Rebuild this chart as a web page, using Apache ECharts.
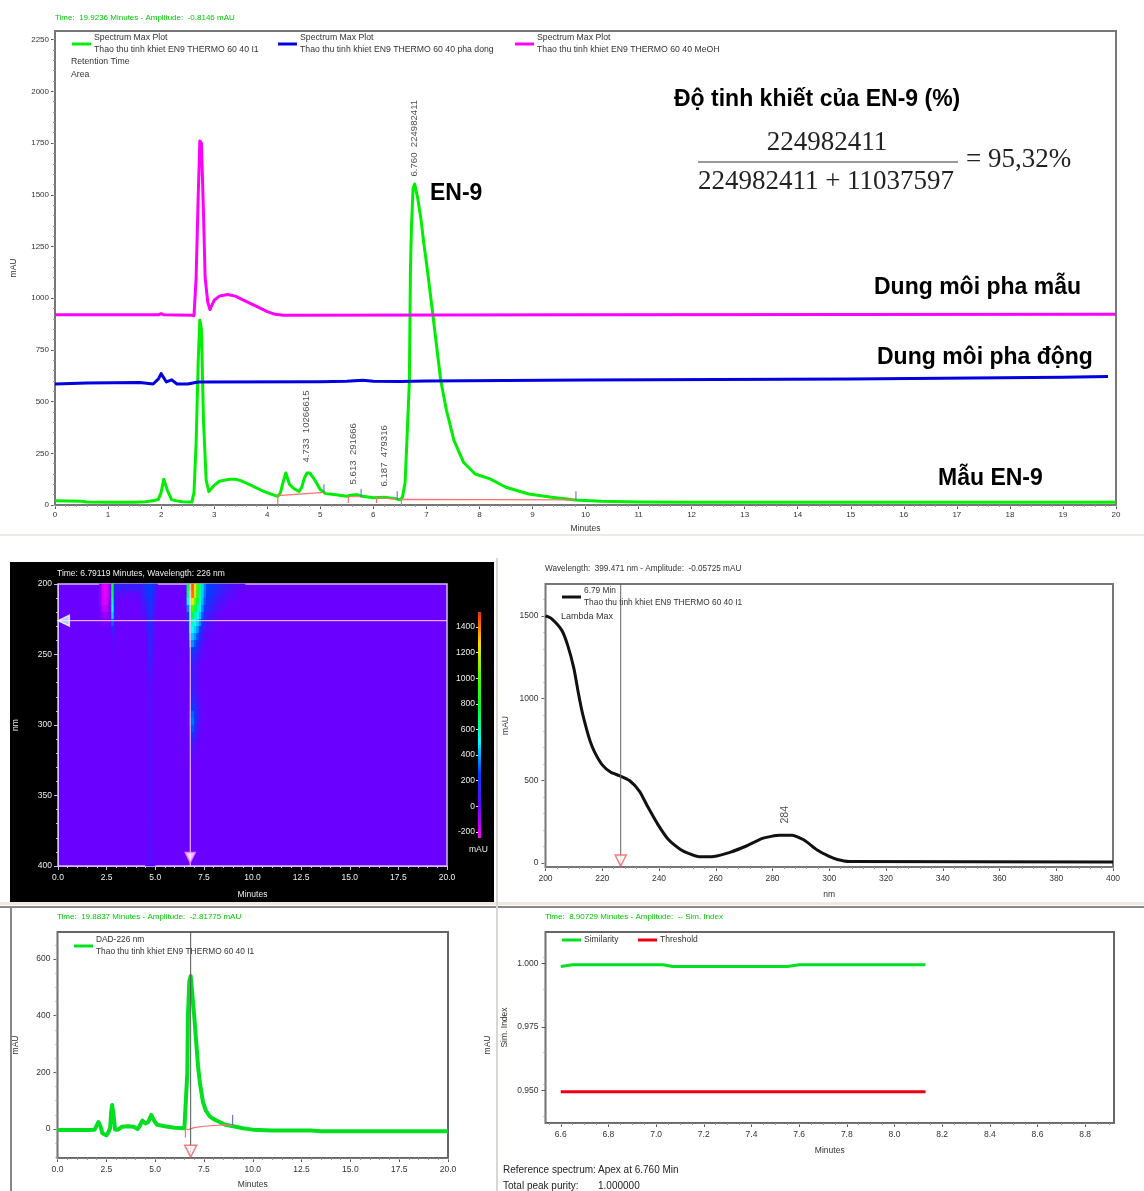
<!DOCTYPE html>
<html><head><meta charset="utf-8">
<script src="https://cdn.jsdelivr.net/npm/echarts@6/dist/echarts.min.js"></script>
<style>html,body{margin:0;background:#fff}#c{width:1144px;height:1191px;filter:blur(0.45px)}</style></head>
<body><div id="c"></div>
<script>
// ---------- Main chromatogram ----------
const mainGreenT=[0,0.5,0.6,1,1.5,1.7,1.85,1.95,2,2.05,2.08,2.12,2.2,2.3,2.4,2.58,2.62,2.66,2.7,2.73,2.76,2.8,2.85,2.9,2.93,3,3.1,3.3,3.4,3.5,3.7,3.9,4.1,4.2,4.25,4.3,4.35,4.38,4.42,4.5,4.6,4.65,4.7,4.75,4.8,4.9,5,5.1,5.3,5.5,5.6,5.7,5.8,6,6.2,6.4,6.5,6.55,6.6,6.64,6.68,6.7,6.72,6.75,6.78,6.84,6.9,6.95,7.02,7.12,7.27,7.38,7.52,7.7,7.92,8.2,8.5,8.93,9.36,9.8,10.3,11,12,20];
const mainGreenV=[20,18,14,13,13,16,20,28,60,125,130,70,25,20,16,14,60,300,700,893,850,400,120,65,68,95,115,125,125,118,95,70,50,42,60,110,155,150,100,80,65,85,130,155,155,120,75,55,50,42,48,50,42,35,38,32,25,37,110,350,600,1136,1350,1530,1552,1480,1380,1270,1136,926,603,457,312,207,150,126,86,53,37,24,18,14,13,13];
const mainBlueT=[0,0.6,1.6,1.85,1.95,2,2.1,2.15,2.2,2.3,2.5,2.7,5,5.5,5.8,6,6.5,7,10,15,19,19.85];
const mainBlueV=[585,590,592,585,610,635,595,600,605,585,585,595,596,598,603,598,597,600,605,609,618,621];
const mainMagentaT=[0,1.95,2,2.05,2.58,2.62,2.66,2.7,2.73,2.76,2.8,2.83,2.88,2.92,3,3.1,3.25,3.4,3.6,3.8,4,4.15,4.3,10,20];
const mainMagentaV=[920,920,925,920,918,915,1100,1500,1760,1750,1400,1100,980,945,990,1010,1018,1010,985,960,935,922,918,920,922];
const mainBaseT=[4.2,4.2,5.07,null,5.53,5.53,5.77,null,6.06,6.06,6.45,null,6.53,6.53,9.82];
const mainBaseV=[5,45,61,null,10,40,40,null,10,35,30,null,0,27,25];
const mainStopT=[5.07,5.07,null,5.77,5.77,null,6.45,6.45,null,9.82,9.82];
const mainStopV=[62,100,null,37,78,null,24,66,null,24,66];
const mainPeakT=[6.77,4.73,5.62,6.2];
const mainPeakV=[1586,203,97,87];
const mainPeakText=['6.760  224982411','4.733  10266615','5.613  291666','6.187  479316'];
const mainTicksY=[0,250,500,750,1000,1250,1500,1750,2000,2250];

// ---------- 3D map ----------
const heatWavelengthStart=200, heatWavelengthStep=5, heatTimeStep=0.125;
const heatTimes=[2.125,2.25,2.375,2.5,2.625,2.75,2.875,3,3.125,3.25,3.375,3.5,3.625,3.75,3.875,4,4.125,4.25,4.375,4.5,4.625,4.75,4.875,5,6.625,6.75,6.875,7,7.125,7.25,7.375,7.5,7.625,7.75,7.875,8,8.125,8.25,8.375,8.5,8.625,8.75,8.875,9,9.125,9.25,9.375,9.5];
const heatValues=[
[-60,-60,-60,-40,-20,-10],
[-180,-180,-170,-130,-70,-30],
[-210,-210,-200,-150,-80,-30],
[-190,-190,-170,-120,-60,-20],
[-20,-20,-15,-10],
[750,700,600,500,450,300,150,80,40,30,20],
[150,120,100,80,50,20],
[120,50,30],
[120,30],[110,30],[110,30],[120,30],[110,30],[110,30],[120,30],[110,30],[110,30],
[100,90,70,40,20],
[170,150,120,80,40,30,20],
[200,170,130,90,60,40,30,20,20,20,20,15,15,15,15,15,15,15,15,15,15,15,15,15,15,15,15,15,15,15,15,15,15,15,15,15,15,15,15,15],
[250,220,200,180,170,150,140,130,120,110,100,90,70,50,40,40,35,35,30,30,30,30,30,30,30,30,30,30,30,30,30,30,30,30,30,30,30,30,30,30],
[250,230,210,190,180,170,160,150,140,130,120,100,80,60,50,40,40,40,40,35,35,35,35,35,35,35,35,35,35,35,35,35,35,35,35,35,35,35,35,35],
[160,130,110,90,60,40,30,20,20,15,15,15,15,15,15,15,15,15,15,15,15,15,15,15,15,15,15,15,15,15,15,15,15,15,15,15,15,15,15,15],
[80,50,30,10],
[700,650,500,350,250,200,150,100,50,30,20,10],
[1350,1300,1150,850,700,560,480,420,350,250,150,110,90,80,90,110,130,190,260,280,240,160,90,50,30,20],
[1420,1400,1250,950,720,580,500,430,360,250,180,120,100,100,110,130,170,230,300,320,280,190,100,50,30,20],
[1250,1200,1000,800,620,520,440,360,280,200,140,100,80,80,90,100,130,170,220,230,190,130,70,40,20],
[900,850,750,620,520,450,370,280,200,130,80,50,40,40,40,50,70,100,120,120,90,50,20],
[650,600,550,480,420,340,240,160,100,60,40,20,20,20,20,20,30,40,40,30,20],
[450,430,400,350,280,200,130,90,60,30,20],
[330,310,280,230,170,120,80,50,30,20],
[260,240,210,170,120,80,50,30,20],
[230,210,180,140,90,60,40,20],
[210,190,150,110,70,40,20],
[190,170,130,90,60,30],
[170,140,100,60,30],
[150,120,80,50,20],
[130,100,60,30],
[110,80,50,20],
[90,60,30],
[70,50,20],
[60,40],
[50,30],
[40,20],
[30],
[25],
[20]];
const heatCursorTime=6.8, heatCursorWavelength=226;
const heatColors=['#ff00ff','#6a00ff','#0040ff','#00ffff','#00ff30','#50ff00','#ffe000','#ff2000'];

// ---------- UV spectrum ----------
const specNm=[200,202,205.7,207.8,210,211.5,212.9,214.4,215.8,217.5,220,223,226,229.6,233.2,236,239.7,243.4,247.7,250.6,254.2,259.3,265,271,276.7,282.5,286.9,291,295.6,300,302.8,307,400];
const specV=[1500,1485,1414,1323,1182,1040,919,818,737,667,596,551,531,501,434,343,232,141,81,57,38,40,65,105,151,168,168,141,81,40,22,10,6];
const specCursor=226.5;

// ---------- DAD 226 nm ----------
const dadT=[0,1.5,1.9,2,2.1,2.2,2.3,2.5,2.6,2.7,2.75,2.8,2.87,2.95,3.1,3.3,3.6,3.9,4.1,4.2,4.35,4.5,4.65,4.8,4.95,5.1,5.5,6,6.5,6.6,6.65,6.68,6.75,6.82,6.9,7,7.1,7.2,7.3,7.45,7.6,7.8,8,8.3,8.6,9,9.5,10,11,13,13.5,20];
const dadV=[-3,-3,-2,5,25,10,-15,-22,-12,5,60,85,50,-2,-2,8,10,8,0,10,30,20,25,50,30,15,10,5,3,10,200,400,520,540,480,400,310,220,160,95,65,45,35,25,15,10,3,-2,-5,-5,-8,-8];
const dadBaseT=[6.55,6.55,6.7,7,7.5,8.5,8.97];
const dadBaseV=[-30,0,-2,5,10,15,12];
const dadStopT=[8.97,8.97];
const dadStopV=[14,50];
const dadCursor=6.82;

// ---------- Similarity ----------
const simT=[6.6,6.65,7.03,7.07,7.55,7.6,8.13];
const simV=[0.9988,0.9995,0.9995,0.9988,0.9988,0.9995,0.9995];
const threshT=[6.6,8.13];
const threshV=[0.9495,0.9495];

const FONT='"Liberation Sans",Arial,sans-serif';
const grids=[],xAxes=[],yAxes=[],series=[],legends=[],graphics=[];
const range=(a,b,s)=>{const r=[];for(let i=0;;i++){const v=+(a+i*s).toFixed(6);if(v>b+1e-9)break;r.push(v);}return r;};
const zip=(a,b)=>a.map((v,i)=>[v,b[i]]);

function addAxes(list,grid,o){
  const base={type:'value',gridIndex:grid,min:o.min,max:o.max,inverse:!!o.inverse,splitLine:{show:false},position:o.pos,scale:true};
  const col=o.color||'#333', tick=o.tick||'#555';
  list.push(Object.assign({},base,{
    name:o.name,nameLocation:'middle',nameGap:o.nameGap,nameTextStyle:{fontFamily:FONT,fontSize:o.nameSize||8.5,color:col},
    axisLine:{show:true,onZero:false,lineStyle:{color:o.line||'#777',width:1}},
    axisTick:{show:true,length:4,customValues:o.majors,lineStyle:{color:tick}},
    axisLabel:{show:true,customValues:o.majors,margin:o.margin||7,fontFamily:FONT,fontSize:o.size||8.5,color:col,formatter:o.fmt||(v=>String(v))}
  }));
  const idx=list.length-1;
  list.push(Object.assign({},base,{axisLine:{show:false,onZero:false},
    axisTick:{show:true,length:2,customValues:o.minors,lineStyle:{color:o.tick||'#999'}},
    axisLabel:{show:false}}));
  return idx;
}
function addGrid(l,t,r,b,color,bg,bw){
  grids.push({left:l,top:t,width:r-l,height:b-t,show:true,containLabel:false,borderColor:color||'#777',borderWidth:bw||2,backgroundColor:bg||'transparent'});
  return grids.length-1;
}
function line(name,xi,yi,x,y,color,w,extra){
  series.push(Object.assign({type:'line',name,xAxisIndex:xi,yAxisIndex:yi,data:zip(x,y),showSymbol:false,symbol:'none',
    lineStyle:{color,width:w,join:'round'},itemStyle:{color},smooth:false,silent:true,clip:true,connectNulls:false},extra||{}));
}
const straight=line;
function marker(xi,yi,x,y,fill,stroke,rotate,size){
  series.push({type:'scatter',xAxisIndex:xi,yAxisIndex:yi,data:[[x,y]],symbol:'triangle',symbolRotate:rotate,symbolSize:size,silent:true,
    itemStyle:{color:fill,borderColor:stroke,borderWidth:1.5},z:6});
}
function peakLabels(xi,yi,x,y,text,size){
  series.push({type:'scatter',xAxisIndex:xi,yAxisIndex:yi,symbol:'circle',symbolSize:1,silent:true,z:6,
    itemStyle:{color:'transparent'},
    data:x.map((v,i)=>({value:[v,y[i]],name:text[i]})),
    label:{show:true,position:'top',distance:0,rotate:90,align:'left',verticalAlign:'middle',formatter:p=>p.name,fontFamily:FONT,fontSize:size,color:'#222'}});
}
function legend(names,left,top,gap,size,w){
  legends.push({show:true,data:names,left,top,padding:0,orient:'horizontal',itemGap:gap,itemWidth:w||19,itemHeight:3,icon:'rect',selectedMode:false,
    textStyle:{fontFamily:FONT,fontSize:size,lineHeight:12,color:'#333',padding:[0,0,0,-2]}});
}
function txt(x,y,text,size,o){
  o=o||{};
  graphics.push({type:'text',x,y,z:100,rotation:o.rot||0,silent:true,style:{text,fontSize:size,fontFamily:o.family||FONT,fontWeight:o.weight||'normal',
    fill:o.fill||'#111',textAlign:o.align||'left',textVerticalAlign:'middle',verticalAlign:'middle'}});
}
function rect(x,y,w,h,fill){graphics.push({type:'rect',z:-10,silent:true,shape:{x,y,width:w,height:h},style:{fill}});}

// Panel backgrounds and separators
rect(0,534,1144,2,'#ecece4');
rect(10,562,484,340,'#000');
rect(0,902,1144,3,'#eee9e2');
rect(0,906,1144,2,'#8a8a84');
rect(496,558,2,633,'#d8d8d2');
rect(10,906,2,285,'#8a8a84');

// 1 Main chromatogram
{
  const g=addGrid(55,31,1116,505,'#777');
  const xi=addAxes(xAxes,g,{min:0,max:20,majors:range(0,20,1),minors:range(0,20,0.2),pos:'bottom',name:'Minutes',nameGap:19,margin:6,size:8});
  const yi=addAxes(yAxes,g,{min:0,max:2292,majors:mainTicksY,minors:range(0,2250,50),pos:'left',name:'mAU',nameGap:37,margin:6,size:8});
  const n1='Spectrum Max Plot\nThao thu tinh khiet EN9 THERMO 60 40 I1',n2='Spectrum Max Plot\nThao thu tinh khiet EN9 THERMO 60 40 pha dong',n3='Spectrum Max Plot\nThao thu tinh khiet EN9 THERMO 60 40 MeOH';
  line(n1,xi,yi,mainGreenT,mainGreenV,'#00ee00',3);
  line(n2,xi,yi,mainBlueT,mainBlueV,'#0000e0',3);
  line(n3,xi,yi,mainMagentaT,mainMagentaV,'#ff00ff',3);
  straight('baseline',xi,yi,mainBaseT,mainBaseV,'#ff7070',1.2);
  straight('stops',xi,yi,mainStopT,mainStopV,'#5060e0',1);
  peakLabels(xi,yi,mainPeakT,mainPeakV,mainPeakText,9.6);
  legend([n1],72,32,0,8.7);
  legends.push(Object.assign({},legends[0],{data:[n2],left:278}));
  legends.push(Object.assign({},legends[0],{data:[n3],left:515}));
  txt(55,18,'Time:  19.9236 Minutes - Amplitude:  -0.8146 mAU',8,{fill:'#00c800'});
  txt(71,62,'Retention Time',8.7,{fill:'#333'});
  txt(71,75,'Area',8.7,{fill:'#333'});
  txt(430,194,'EN-9',23,{weight:'bold',fill:'#000'});
  txt(674,100,'Độ tinh khiết của EN-9 (%)',23,{weight:'bold',fill:'#000'});
  const S='"Liberation Serif","Times New Roman",serif';
  txt(827,143,'224982411',27,{family:S,align:'center',fill:'#222'});
  txt(826,182,'224982411 + 11037597',27,{family:S,align:'center',fill:'#222'});
  txt(966,160,'= 95,32%',27,{family:S,fill:'#222'});
  graphics.push({type:'line',z:100,silent:true,shape:{x1:698,y1:162,x2:958,y2:162},style:{stroke:'#333',lineWidth:1}});
  txt(874,288,'Dung môi pha mẫu',23,{weight:'bold',fill:'#000'});
  txt(877,358,'Dung môi pha động',23,{weight:'bold',fill:'#000'});
  txt(938,479,'Mẫu EN-9',23,{weight:'bold',fill:'#000'});
}
// 2 Heat map
let heatSeriesIndex;
{
  const lc='#d8b8ff';
  const g=addGrid(58,584,447,866,lc,'#6a00ff',1.5);
  const xi=addAxes(xAxes,g,{min:0,max:20,majors:range(0,20,2.5),minors:range(0,20,0.5),pos:'bottom',name:'Minutes',nameGap:24,margin:7,fmt:v=>v.toFixed(1),color:'#eee',tick:lc,line:lc});
  const yi=addAxes(yAxes,g,{min:200,max:400,inverse:true,majors:range(200,400,50),minors:range(200,400,10),pos:'left',name:'nm',nameGap:38,margin:6,color:'#eee',tick:lc,line:lc});
  const cats=range(0,19.875,heatTimeStep).map(String), wls=range(heatWavelengthStart,395,heatWavelengthStep).map(String);
  xAxes.push({type:'category',gridIndex:g,data:cats,show:false,boundaryGap:true});
  const xc=xAxes.length-1;
  yAxes.push({type:'category',gridIndex:g,data:wls,show:false,inverse:true,boundaryGap:true});
  const yc=yAxes.length-1;
  const cells=[];
  heatTimes.forEach((t,i)=>heatValues[i].forEach((v,j)=>cells.push([Math.round(t/heatTimeStep),j,v])));
  heatSeriesIndex=series.length;
  series.push({type:'heatmap',xAxisIndex:xc,yAxisIndex:yc,data:cells,silent:true,z:1,progressive:0,itemStyle:{borderWidth:0}});
  straight('cursorT',xi,yi,[heatCursorTime,heatCursorTime],[200,400],'#ffd0ff',1);
  straight('cursorW',xi,yi,[0,20],[heatCursorWavelength,heatCursorWavelength],'#ffd0ff',1);
  marker(xi,yi,0.3,heatCursorWavelength,'#d0fff0','#fff',90,11);
  marker(xi,yi,heatCursorTime,394,'#ffffff','#ff80ff',180,10);
  txt(57,574,'Time: 6.79119 Minutes, Wavelength: 226 nm',8.5,{fill:'#eee'});
  // colour scale
  const gc=addGrid(478,612,481,838,'transparent','transparent',0);
  grids[gc].show=false;
  xAxes.push({type:'value',gridIndex:gc,min:0,max:1,show:false});
  const cy=[-200,0,200,400,600,800,1000,1200,1400];
  yAxes.push({type:'value',gridIndex:gc,min:-247,max:1517,position:'left',splitLine:{show:false},axisLine:{show:false},
    axisTick:{show:true,length:2,customValues:cy,lineStyle:{color:'#eee'}},
    axisLabel:{show:true,customValues:cy,margin:3,fontFamily:FONT,fontSize:8.5,color:'#eee',formatter:v=>String(v)}});
  txt(469,850,'mAU',8.5,{fill:'#eee'});
}
// 3 UV spectrum
{
  const g=addGrid(545.5,584,1113,867,'#777');
  const xi=addAxes(xAxes,g,{min:200,max:400,majors:range(200,400,20),minors:range(200,400,4),pos:'bottom',name:'nm',nameGap:23,margin:7});
  const yi=addAxes(yAxes,g,{min:-24,max:1694,majors:[0,500,1000,1500],minors:range(0,1650,100),pos:'left',name:'mAU',nameGap:35,margin:7});
  const n='6.79 Min\nThao thu tinh khiet EN9 THERMO 60 40 I1';
  line(n,xi,yi,specNm,specV,'#111',3,{smooth:0.2});
  straight('cursor',xi,yi,[specCursor,specCursor],[-24,1694],'#666',1);
  marker(xi,yi,specCursor,15,'#fff','#f06060',180,11);
  peakLabels(xi,yi,[284.5],[237],['284'],10.5);
  legend([n],562,585,0,8.35);
  txt(545,569,'Wavelength:  399.471 nm - Amplitude:  -0.05725 mAU',8.2,{fill:'#333'});
  txt(561,617,'Lambda Max',9,{fill:'#333'});
}
// 4 DAD
{
  const g=addGrid(57.5,932,448,1158,'#666');
  const xi=addAxes(xAxes,g,{min:0,max:20,majors:range(0,20,2.5),minors:range(0,20,0.5),pos:'bottom',name:'Minutes',nameGap:22,margin:7,fmt:v=>v.toFixed(1)});
  const yi=addAxes(yAxes,g,{min:-102,max:695,majors:[0,200,400,600],minors:range(-100,650,50),pos:'left',name:'mAU',nameGap:37,margin:7});
  const n='DAD-226 nm\nThao thu tinh khiet EN9 THERMO 60 40 I1';
  line(n,xi,yi,dadT,dadV,'#00e020',4);
  straight('base',xi,yi,dadBaseT,dadBaseV,'#ff7070',1.2);
  straight('stop',xi,yi,dadStopT,dadStopV,'#5060e0',1);
  straight('cursor',xi,yi,[dadCursor,dadCursor],[-102,695],'#555',1);
  marker(xi,yi,dadCursor,-78,'#fff','#f06060',180,12);
  legend([n],74,934,0,8.35);
  txt(57,917,'Time:  19.8837 Minutes - Amplitude:  -2.81775 mAU',8,{fill:'#00c800'});
  txt(488,1045,'mAU',8.5,{rot:Math.PI/2,align:'center',fill:'#333'});
}
// 5 Similarity
{
  const g=addGrid(545.5,932,1114,1123,'#666');
  const xi=addAxes(xAxes,g,{min:6.536,max:8.921,majors:range(6.6,8.8,0.2),minors:range(6.55,8.9,0.05),pos:'bottom',name:'Minutes',nameGap:23,margin:7,fmt:v=>v.toFixed(1)});
  const yi=addAxes(yAxes,g,{min:0.9372,max:1.0124,majors:[0.95,0.975,1],minors:range(0.94,1.01,0.0125),pos:'left',name:'Sim. Index',nameGap:36,margin:7,fmt:v=>v.toFixed(3)});
  straight('Similarity',xi,yi,simT,simV,'#00e020',3);
  straight('Threshold',xi,yi,threshT,threshV,'#ee0010',3);
  legend(['Similarity'],562,934,0,8.5);
  legends.push(Object.assign({},legends[legends.length-1],{data:['Threshold'],left:638}));
  txt(545,917,'Time:  8.90729 Minutes - Amplitude:  -- Sim. Index',8,{fill:'#00c800'});
  txt(503,1170,'Reference spectrum:',10,{fill:'#222'});
  txt(598,1170,'Apex at 6.760 Min',10,{fill:'#222'});
  txt(503,1186,'Total peak purity:',10,{fill:'#222'});
  txt(598,1186,'1.000000',10,{fill:'#222'});
}

const chart=echarts.init(document.getElementById('c'),null,{renderer:'canvas'});
chart.setOption({
  animation:false,backgroundColor:'#fff',textStyle:{fontFamily:FONT},
  grid:grids,xAxis:xAxes,yAxis:yAxes,series,legend:legends,graphic:{elements:graphics},
  visualMap:{type:'continuous',seriesIndex:heatSeriesIndex,min:-250,max:1500,left:478,top:612,itemWidth:3,itemHeight:226,padding:0,
    calculable:false,text:null,showLabel:false,inRange:{color:heatColors},textStyle:{color:'rgba(0,0,0,0)'},hoverLink:false}
});
</script></body></html>
